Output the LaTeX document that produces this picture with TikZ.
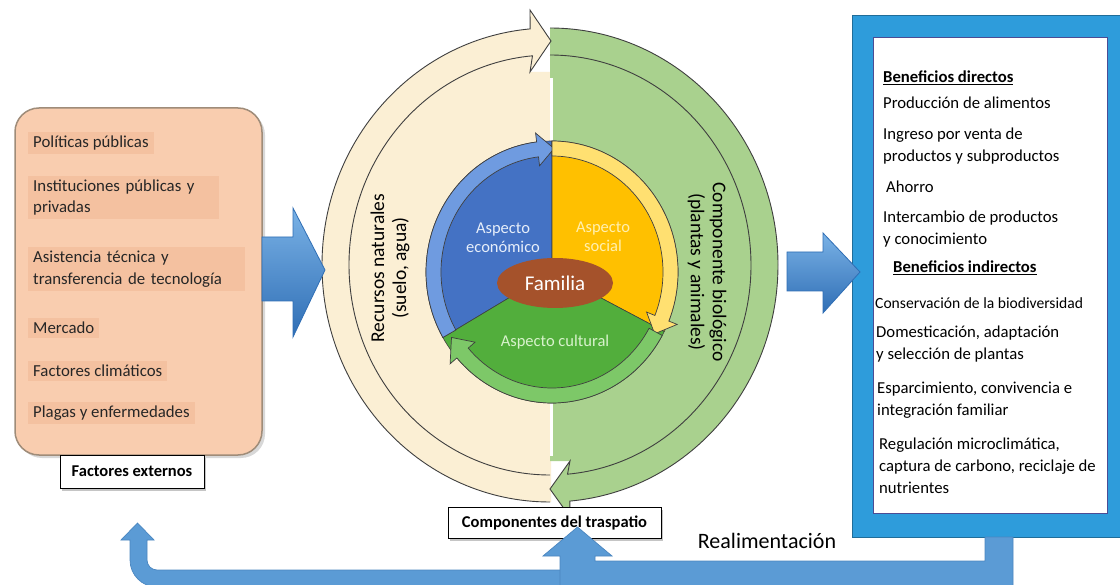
\documentclass[tikz,border=0pt]{standalone}
\usepackage{fontspec}
\setmainfont{Carlito}
\usetikzlibrary{shapes.geometric,shadows}
\definecolor{cream}{HTML}{FBEFD4}
\definecolor{lgreen}{HTML}{A9D18E}
\definecolor{ecoblue}{HTML}{4472C4}
\definecolor{ecoband}{HTML}{6F9BE0}
\definecolor{socyel}{HTML}{FFC000}
\definecolor{socband}{HTML}{FFE071}
\definecolor{culgreen}{HTML}{52AE3C}
\definecolor{culband}{HTML}{7DC868}
\definecolor{famb}{HTML}{A5522B}
\definecolor{peach}{HTML}{F9CDAF}
\definecolor{itembg}{HTML}{F4C1A0}
\definecolor{frameblue}{HTML}{2E9CDB}
\definecolor{arrowblue}{HTML}{5B9BD5}
\definecolor{arrowedge}{HTML}{4A86C0}
\definecolor{sidetop}{HTML}{7AB2E6}
\definecolor{sidebot}{HTML}{2F6EB5}
\definecolor{outl}{HTML}{3F3F3F}
\definecolor{ecotxt}{HTML}{E6EEFA}
\definecolor{soctxt}{HTML}{FFF0B0}
\definecolor{cultxt}{HTML}{D8F2CC}
\newcommand{\ringarrow}[4]{%
 \path[#4] ({552+126*cos(#1)},{-272+131*sin(#1)})
  arc[start angle=#1,end angle=#2,x radius=126,y radius=131]
  -- ({552+135*cos(#2)},{-272+140*sin(#2)})
  -- ({552+118.5*cos(#3)},{-272+123.5*sin(#3)})
  -- ({552+102*cos(#2)},{-272+107*sin(#2)})
  -- ({552+111*cos(#2)},{-272+116*sin(#2)})
  arc[start angle=#2,end angle=#1,x radius=111,y radius=116] -- cycle;}
\tikzset{
 txt/.style={font=\fontsize{16.5}{21.5}\selectfont, inner sep=0pt, align=left},
 itembox/.style={txt, font=\fontsize{16.8}{21.5}\selectfont, anchor=west, fill=itembg, inner xsep=5pt, inner ysep=4pt, text=black!85},
 rtxt/.style={font=\fontsize{16.7}{22}\selectfont, inner sep=0pt, align=left, anchor=west},
 lbl/.style={draw=black, fill=white, line width=1pt, font=\bfseries\fontsize{16.5}{20}\selectfont,
   inner sep=0pt, drop shadow={shadow xshift=2pt, shadow yshift=-3pt, opacity=0.45}},
 ringline/.style={draw=outl, line width=0.9pt},
 sector/.style={draw=outl, line width=0.6pt},
 band/.style={draw=outl, line width=0.7pt},
 sidearrow/.style={top color=sidetop, bottom color=sidebot, draw=sidebot, line width=0.8pt},
 fbarrow/.style={fill=arrowblue, draw=arrowedge, line width=0.7pt},
 rot/.style={font=\fontsize{19.5}{22}\selectfont, inner sep=0pt, align=center}
}
\begin{document}
\begin{tikzpicture}[x=1pt,y=1pt]
\useasboundingbox (0,0) rectangle (1120,-585);
\fill[white] (0,0) rectangle (1120,-585);

% ---------- outer ring ----------
\fill[cream] (550,-502) arc[start angle=270,end angle=95,x radius=228,y radius=237]
  -- (530,-10) -- (551,-41) -- (530,-72) -- (551,-72) -- (551,-502) -- cycle;
\fill[lgreen] (550,-28) arc[start angle=90,end angle=-85,x radius=228,y radius=237]
  -- (570,-517) -- (550,-489) -- (570,-461) -- (550,-461) -- cycle;
\draw[white, line width=3pt] (551.5,-78) -- (551.5,-456);
\draw[ringline] (550,-502) arc[start angle=270,end angle=95,x radius=228,y radius=237]
  -- (530,-10) -- (551,-41) -- (530,-72)
  -- ({550+201*cos(95)},{-265+210*sin(95)})
  arc[start angle=95,end angle=270,x radius=201,y radius=210];
\draw[ringline] (550,-28) arc[start angle=90,end angle=-85,x radius=228,y radius=237]
  -- (570,-517) -- (550,-489) -- (570,-461)
  -- ({550+201*cos(-85)},{-265+210*sin(-85)})
  arc[start angle=-85,end angle=90,x radius=201,y radius=210];

% ---------- inner circle ----------
\filldraw[fill=ecoblue, sector] (552,-272) -- ({552+126*cos(210)},{-272+131*sin(210)})
  arc[start angle=210,end angle=90,x radius=126,y radius=131] -- cycle;
\filldraw[fill=socyel, sector] (552,-272) -- (552,-141)
  arc[start angle=90,end angle=-27,x radius=126,y radius=131] -- cycle;
\filldraw[fill=culgreen, sector] (552,-272) -- ({552+126*cos(-27)},{-272+131*sin(-27)})
  arc[start angle=-27,end angle=-150,x radius=126,y radius=131] -- cycle;
\ringarrow{210}{97}{89}{fill=ecoband, band}
\ringarrow{90}{-22}{-30}{fill=socband, band}
\ringarrow{-29}{-139}{-148}{fill=culband, band}

\node[ellipse, fill=famb, minimum width=116pt, minimum height=50pt, inner sep=0pt,
  text=white, font=\fontsize{21}{24}\selectfont] (fam) at (555,-283) {Familia};
\node[txt, align=center, text=ecotxt, font=\fontsize{16.5}{19}\selectfont] (eco) at (503,-238) {Aspecto\\económico};
\node[txt, align=center, text=soctxt, font=\fontsize{16.5}{19}\selectfont] (soc) at (603,-237) {Aspecto\\social};
\node[txt, text=cultxt] (cul) at (555,-342) {Aspecto cultural};

\node[rot, rotate=90] (rec) at (390,-268) {Recursos naturales\\(suelo, agua)};
\node[rot, rotate=-90] (bio) at (707,-272) {Componente biológico\\(plantas y animales)};

% ---------- left box ----------
\node[draw=black!50!brown!60, line width=1.5pt, rounded corners=24pt, fill=peach,
  minimum width=247pt, minimum height=347pt,
  drop shadow={shadow xshift=3pt, shadow yshift=-3pt, opacity=0.3}] (ext) at (138.5,-281.5) {};
\node[itembox] (i1) at (28,-143) {Políticas públicas};
\node[itembox, text width=181pt] (i2) at (28,-197.5) {Instituciones públicas y\\privadas};
\node[itembox, text width=207pt] (i3) at (28,-269) {Asistencia técnica y\\transferencia de tecnología};
\node[itembox] (i4) at (28,-328) {Mercado};
\node[itembox] (i5) at (28,-371) {Factores climáticos};
\node[itembox] (i6) at (28,-413) {Plagas y enfermedades};
\node[lbl, minimum width=144pt, minimum height=33pt] (fext) at (132,-471.5) {Factores externos};

\path[sidearrow] (262,-237) -- (293,-237) -- (293,-208) -- (325,-270) -- (293,-337)
  -- (293,-301) -- (262,-301) -- cycle;

% ---------- right box ----------
\filldraw[fill=frameblue, draw=frameblue!70!black, line width=0.8pt] (852,-15) rectangle (1121,-537);
\filldraw[fill=white, draw=blue!40!black!70, line width=1pt] (873,-38) rectangle (1107,-513);
\node[rtxt] (b0) at (883,-78) {\underline{\textbf{Beneficios directos}}};
\node[rtxt] (b1) at (883,-103) {Producción de alimentos};
\node[rtxt] (b2) at (883,-146) {Ingreso por venta de\\productos y subproductos};
\node[rtxt] (b3) at (886,-187) {Ahorro};
\node[rtxt] (b4) at (883,-229) {Intercambio de productos\\y conocimiento};
\node[rtxt] (b5) at (893,-268) {\underline{\textbf{Beneficios indirectos}}};
\node[rtxt, font=\fontsize{15.6}{22}\selectfont] (b6) at (875,-303) {Conservación de la biodiversidad};
\node[rtxt] (b7) at (876,-344) {Domesticación, adaptación\\y selección de plantas};
\node[rtxt] (b8) at (877,-400) {Esparcimiento, convivencia e\\integración familiar};
\node[rtxt] (b9) at (879,-466) {Regulación microclimática,\\captura de carbono, reciclaje de\\nutrientes};

\path[sidearrow] (787,-252) -- (823,-252) -- (823,-233) -- (860,-272) -- (823,-313)
  -- (823,-291) -- (787,-291) -- cycle;

% ---------- feedback ----------
\path[fbarrow] (561,-570) -- (157,-570) arc[start angle=270,end angle=180,radius=10]
  -- (147,-540) -- (154,-540) -- (137.5,-523) -- (121,-540) -- (130,-540) -- (130,-560)
  arc[start angle=180,end angle=270,radius=27] -- (561,-587) -- cycle;

\node[lbl, minimum width=213pt, minimum height=31pt] (comp) at (554.5,-522.5) {Componentes del traspatio};

\path[fbarrow] (985,-537) -- (1013,-537) -- (1013,-590) -- (560,-590) -- (560,-556)
  -- (543,-556) -- (577.5,-527) -- (612,-556) -- (595,-556) -- (595,-561)
  -- (985,-561) -- cycle;

\node[font=\fontsize{22}{24}\selectfont, inner sep=0pt] (real) at (767,-541) {Realimentación};
\end{tikzpicture}
\end{document}
